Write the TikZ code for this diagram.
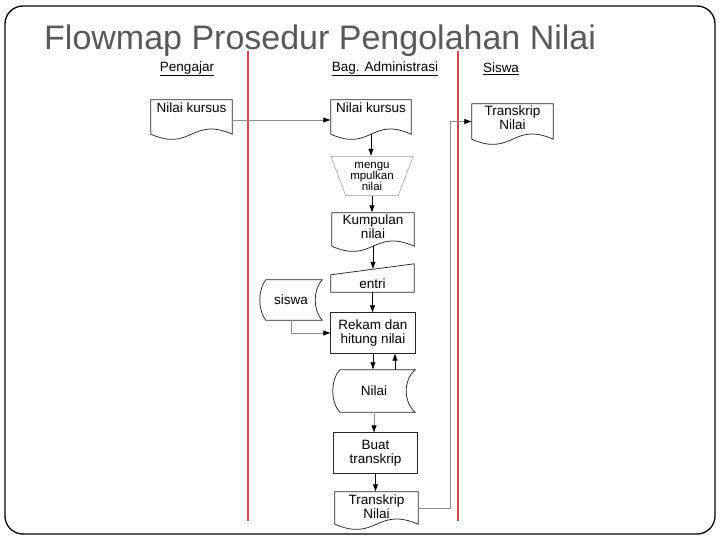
\documentclass[tikz,border=0pt]{standalone}
\usepackage{fontspec}
\setmainfont{Liberation Sans}
\usetikzlibrary{calc,arrows.meta}
\definecolor{titlegray}{HTML}{595959}
\definecolor{lanered}{HTML}{C8484F}
\definecolor{flowgray}{HTML}{8C8C8C}
\definecolor{trapgray}{HTML}{9A9A9A}
\newcommand\docwave[1]{\draw[shapeline] (#1.south west) -- (#1.north west) -- (#1.north east) -- (#1.south east) .. controls ($(#1.south)+(0,-18)$) and ($(#1.south)+(0,18)$) .. (#1.south west);}
\newcommand\storeshape[3]{\draw[shapeline] ($(#1.north west)+(#2,0)$) -- (#1.north east) .. controls ($(#1.north east)+({-#3*4/3},10)$) and ($(#1.south east)+({-#3*4/3},-10)$) .. (#1.south east) -- ($(#1.south west)+(#2,0)$) .. controls ($(#1.south west)+({#2-#2*4/3},-10)$) and ($(#1.north west)+({#2-#2*4/3},10)$) .. ($(#1.north west)+(#2,0)$);}
\begin{document}
\begin{tikzpicture}[x=1pt,y=-1pt,
  box/.style={draw=none, inner sep=0pt, align=center, font=\fontsize{13.5}{14}\selectfont},
  shapeline/.style={draw=black!85, line width=0.75pt},
  flow/.style={draw=black, line width=0.8pt, -{Latex[length=7.5pt,width=5.5pt,color=black]}},
  gflow/.style={draw=flowgray, line width=0.6pt, -{Latex[length=7.5pt,width=5.5pt,color=black]}},
  lane/.style={draw=lanered, line width=1.2pt},
  lanelabel/.style={font=\fontsize{13.5}{15}\selectfont, inner sep=0pt}
]
\useasboundingbox (0,0) rectangle (720,540);
\fill[white] (0,0) rectangle (720,540);
\draw[line width=1.3pt, rounded corners=18pt] (5,6) rectangle (715,534);

\node[anchor=base west, font=\fontsize{34}{40}\selectfont, text=titlegray, inner sep=0pt] (title) at (44,50) {Flowmap Prosedur Pengolahan Nilai};

\draw[lane] (248,51) -- (248,521);
\draw[lane] (458,51) -- (458,521);

\node[lanelabel] (lpeng) at (187,69) {\underline{Pengajar}};
\node[lanelabel] (ladm) at (385,69) {\underline{Bag. Administrasi}};
\node[lanelabel] (lsis) at (501,69) {\underline{Siswa}};

% shape nodes
\node[box, minimum width=81pt, text height=13pt, text depth=21pt] (pdoc) at (191.5,117) {Nilai kursus};
\node[box, minimum width=80pt, text height=13pt, text depth=21pt] (adoc) at (371,117) {Nilai kursus};
\node[box, minimum width=81pt, minimum height=35pt] (sdoc) at (512.5,121.5) {};
\node[box] (sdoct) at (512.5,118) {Transkrip\\Nilai};
\node[box, minimum width=82pt, minimum height=39pt, font=\fontsize{11.5}{11}\selectfont] (trap) at (372,176) {mengu\\mpulkan\\nilai};
\node[box, minimum width=82pt, minimum height=33pt] (kdoc) at (373,229.5) {};
\node[box] (kdoct) at (373,227) {Kumpulan\\nilai};
\node[box, minimum width=83pt, minimum height=17pt] (entri) at (372.5,283.5) {entri};
\node[box, minimum width=62pt, minimum height=40pt] (siswa) at (291,300) {siswa};
\node[box, minimum width=84pt, minimum height=40pt] (rekam) at (373,333) {Rekam dan\\hitung nilai};
\node[box, minimum width=82pt, minimum height=42pt] (nilai) at (374,391) {Nilai};
\node[box, minimum width=83pt, minimum height=40pt] (buat) at (375.5,453) {Buat\\transkrip};
\node[box, minimum width=83pt, minimum height=32pt] (tdoc) at (376.5,508) {};
\node[box] (tdoct) at (376.5,506.5) {Transkrip\\Nilai};

% shapes
\docwave{pdoc}
\docwave{adoc}
\docwave{sdoc}
\docwave{kdoc}
\docwave{tdoc}
\draw[draw=trapgray, line width=0.5pt] (trap.north west) -- (trap.north east) -- ($(trap.south east)+(-15,0)$) -- ($(trap.south west)+(15,0)$) -- cycle;
\draw[shapeline] (entri.south west) -- (entri.north west) -- ($(entri.north east)+(0,-11)$) -- (entri.south east) -- cycle;
\draw[shapeline] (rekam.south west) rectangle (rekam.north east);
\draw[shapeline] (buat.south west) rectangle (buat.north east);
\storeshape{siswa}{6}{7}
\storeshape{nilai}{7}{9}

% connectors
\coordinate (entritop) at ($(entri.north)+(0,-5.5)$);
\coordinate (nup) at ($(nilai.north)+(21,0)$);
\coordinate (bendx) at (450,0);
\draw[gflow] ($(pdoc.east)+(0,3)$) -- ($(adoc.west)+(0,3)$);
\draw[flow] (adoc.south) -- (adoc.south |- trap.north);
\draw[flow] (trap.south) -- (trap.south |- kdoc.north);
\draw[flow] (kdoc.south) -- (kdoc.south |- entritop);
\draw[flow] (entri.south) -- (entri.south |- rekam.north);
\draw[gflow] (siswa.south) |- (rekam.west);
\draw[flow] (rekam.south) -- (rekam.south |- nilai.north);
\draw[flow] (nup) -- (nup |- rekam.south);
\draw[gflow] (nilai.south) -- (nilai.south |- buat.north);
\draw[flow] (buat.south) -- (buat.south |- tdoc.north);
\draw[gflow] (tdoc.east) -- (tdoc.east -| bendx) -- (bendx |- sdoc.west) -- (sdoc.west);
\end{tikzpicture}
\end{document}
